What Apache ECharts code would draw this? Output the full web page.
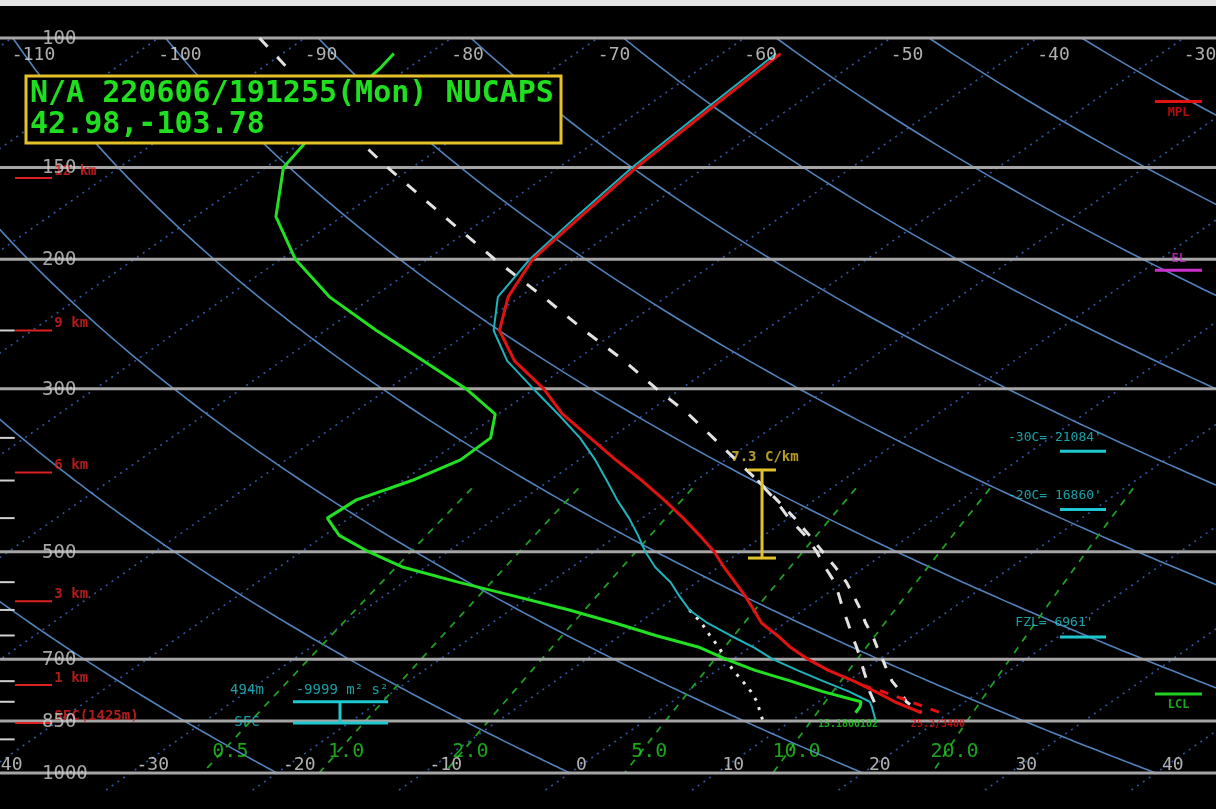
<!DOCTYPE html>
<html><head><meta charset="utf-8">
<script src="https://cdn.jsdelivr.net/npm/echarts@6.0.0/dist/echarts.min.js"></script>
<style>html,body{margin:0;padding:0;background:#000;overflow:hidden}#chart{width:1216px;height:809px}</style>
</head><body><div id="chart"></div>
<script>
// ------------------ DATA ------------------
const ISOBARS = [100, 150, 200, 300, 500, 700, 850, 1000];
const ISOBAR_LABELS = ['100', '150', '200', '300', '500', '700', '850', '1000'];
const MINOR_ISOBARS = [250, 350, 400, 450, 550, 600, 650, 750, 800, 900];
const TOP_TEMPS = [-110, -100, -90, -80, -70, -60, -50, -40, -30];
const BOTTOM_TEMPS = [-40, -30, -20, -10, 0, 10, 20, 30, 40];
const ISOTHERMS = [-110, -100, -90, -80, -70, -60, -50, -40, -30, -20, -10, 0, 10, 20, 30, 40];
const DRY_ADIABATS = [-20, 0, 20, 40, 60, 80, 100, 120, 140, 160, 180];
const MIXING_RATIOS = [0.5, 1, 2, 5, 10, 20];
const MIXING_LABELS = ['0.5', '1.0', '2.0', '5.0', '10.0', '20.0'];

const TEMP_P = [105,125,150,175,200,225,250,275,300,325,350,375,400,425,450,475,500,525,550,575,600,625,650,675,700,725,750,775,800,828];
const TEMP   = [-56.0,-55.4,-54.7,-53.7,-52.8,-50.8,-48.1,-44.1,-39.4,-35.6,-31.4,-27.5,-23.7,-20.3,-17.2,-14.4,-11.8,-9.6,-7.4,-5.3,-3.4,-1.6,0.7,2.8,5.1,7.6,10.4,12.9,15.2,18.1];
const WB_P   = [105,125,150,175,200,225,250,275,300,325,350,375,400,425,450,475,500,525,550,575,600,625,650,675,700,725,750,775,800,812,850];
const WETBULB= [-56.3,-55.7,-55.0,-54.0,-53.0,-51.5,-48.5,-44.6,-40.1,-35.9,-32.1,-28.9,-26.1,-23.5,-20.9,-18.6,-16.5,-14.3,-11.8,-9.8,-7.8,-5.3,-2.5,0.3,2.7,5.5,8.3,11.1,13.5,14.1,15.8];
const DEW_P  = [105,110,125,150,175,200,225,250,275,300,325,350,375,400,425,450,475,500,525,550,575,600,625,650,675,700,725,750,775,800,812,828];
const DEWPT  = [-82.4,-81.9,-81.0,-78.8,-74.5,-69.0,-63.0,-56.5,-50.3,-44.7,-40.2,-38.2,-38.1,-39.4,-41.3,-41.5,-39.0,-35.4,-31.5,-26.3,-21.0,-16.0,-11.6,-7.6,-3.4,-0.5,2.6,6.1,9.3,12.9,13.3,13.6];
const PARCEL_P = [100,125,150,175,200,225,250,275,300,325,350,375,400,425,450,475,500,525,550,575,600,625,650,675,700,725,750,775,800,828];
const PARCEL_A = [-93.1,-81.6,-71.7,-63.0,-55.4,-48.4,-42.3,-36.6,-31.7,-27.0,-23.0,-19.3,-15.8,-12.7,-10.0,-7.2,-4.8,-2.7,-0.6,1.1,2.7,4.3,5.8,7.3,8.7,10.0,11.3,12.5,13.8,15.1];
const PARCEL_B_P = [400,425,450,475,500,525,550,575,600,625,650,675,700,725,750,775,800,828];
const PARCEL_B = [-15.8,-12.6,-9.6,-6.9,-4.4,-2.0,0.2,2.1,3.9,5.5,7.2,8.7,10.2,11.6,13.0,14.6,16.0,18.1];
const DD_P = [600,625,650,675,700,725,750,775,800,828,850];
const DD_T = [-7.8,-5.7,-3.9,-2.1,-0.5,1.1,2.8,4.4,5.8,7.1,8.1];
const VT_P = [760,775,800,828];
const VT_T = [11.4,13.4,16.3,19.4];

const HEIGHT_LABELS = ['12 km', '9 km', '6 km', '3 km', '1 km', 'SFC(1425m)'];
const HEIGHT_P = [155, 250, 390, 584, 759, 855];
const LEVEL_TEXT = ["-30C= 21084'", "-20C= 16860'", "FZL= 6961'"];
const LEVEL_P = [365, 438, 653];
const MARKER_TEXT = ['MPL', 'EL', 'LCL'];
const MARKER_P = [122, 207, 781];
const LAPSE_TEXT = '7.3 C/km';
const LAPSE_P = [387, 510];
const SRH_TEXT = ['494m', '-9999 m\u00b2 s\u00b2', 'SFC'];
const SFC_TEXT = ['15.1800102', '25.3/3400'];
const TITLE_1 = 'N/A 220606/191255(Mon) NUCAPS';
const TITLE_2 = '42.98,-103.78';

// ------------------ GEOMETRY ------------------
const SKEW = 71.9, KAPPA = 0.283;
const XMIN = -38.91, XMAX = 44.10;
const sx = (t, p) => t + SKEW * Math.log10(1000 / p);
const thetaT = (th, p) => (th + 273.15) * Math.pow(p / 1000, KAPPA) - 273.15;
const tdMix = (w, p) => { const e = w * p / (622 + w); const l = Math.log(e / 6.112); return 243.5 * l / (17.67 - l); };
const prof = (P, T) => P.map((p, i) => [sx(T[i], p), p]);
const FONT = 'DejaVu Sans Mono';

function line(pts, color, width, type, z, clip) {
  return { type: 'line', silent: true, symbol: 'none', clip: !!clip, z: z, animation: false,
    data: pts, lineStyle: { color: color, width: width, type: type || 'solid' } };
}
function texts(items, style, z) {
  return { type: 'scatter', silent: true, symbolSize: 1, clip: false, z: z || 9, animation: false,
    itemStyle: { color: 'rgba(0,0,0,0)' },
    data: items.map(d => ({ value: [d[0], d[1]], label: { formatter: String(d[2]) } })),
    label: Object.assign({ show: true, position: 'inside', fontFamily: FONT, verticalAlign: 'middle' }, style) };
}

const series = [];
ISOTHERMS.forEach(t => series.push(line([[sx(t, 1055), 1055], [sx(t, 100), 100]], '#3455a4', 1.6, [2, 5], 1, false)));
DRY_ADIABATS.forEach(th => {
  const pts = []; for (let p = 100; p <= 1000; p += 5) pts.push([sx(thetaT(th, p), p), p]);
  series.push(line(pts, '#5282bb', 1.6, 'solid', 2, true));
});
MIXING_RATIOS.forEach(w => {
  const pts = []; for (let p = 410; p <= 1000; p += 10) pts.push([sx(tdMix(w, p), p), p]);
  series.push(line(pts, '#1f9f1f', 1.8, [7, 7], 2, false));
});
ISOBARS.forEach(p => series.push(line([[XMIN, p], [XMAX, p]], '#a5a5a5', 3, 'solid', 3, false)));
MINOR_ISOBARS.forEach(p => series.push(line([[XMIN, p], [XMIN + 1.0, p]], '#d0d0d0', 2, 'solid', 3, false)));

// profiles
series.push(line(prof(PARCEL_P, PARCEL_A), '#e2e2e2', 3, [12, 14], 6));
series.push(line(prof(PARCEL_B_P, PARCEL_B), '#e2e2e2', 3, [10, 12], 6));
series.push(line(prof(DD_P, DD_T), '#e6e6e6', 3, [3, 7], 6));
series.push(line(prof(DEW_P, DEWPT), '#22e022', 3, 'solid', 7));
series.push(line(prof(WB_P, WETBULB), '#1fb3bd', 2, 'solid', 7));
series.push(line(prof(TEMP_P, TEMP), '#e01212', 3, 'solid', 8));
series.push(line(prof(VT_P, VT_T), '#e01212', 3, [9, 9], 8));

// height markers (red, left)
HEIGHT_P.forEach(p => series.push(line([[-37.88, p], [-35.36, p]], '#dd2020', 2, 'solid', 8)));
series.push(texts(HEIGHT_P.map((p, i) => [-35.2, p, HEIGHT_LABELS[i]]),
  { color: '#e02020', fontSize: 14, fontWeight: 'bold', align: 'left', offset: [0, -7] }, 9));

// pressure labels
series.push(texts(ISOBARS.map((p, i) => [-36.04, p, ISOBAR_LABELS[i]]),
  { color: '#d0d0d0', fontSize: 19, align: 'left', offset: [0, 1] }, 10));
// temperature labels
series.push(texts(TOP_TEMPS.map(t => [sx(t, 100), 100, t]),
  { color: '#dcdcdc', fontSize: 18, align: 'left', offset: [0, 17] }, 10));
series.push(texts(BOTTOM_TEMPS.map(t => [sx(t, 1000), 1000, t]),
  { color: '#dcdcdc', fontSize: 18, align: 'left', offset: [6, -8] }, 10));
// mixing ratio labels
series.push(texts(MIXING_RATIOS.map((w, i) => [sx(tdMix(w, 935), 935), 935, MIXING_LABELS[i]]),
  { color: '#22cc22', fontSize: 20, align: 'center', offset: [8, 0] }, 10));

// right-side level annotations
LEVEL_P.forEach(p => series.push(line([[33.45, p], [36.59, p]], '#1fc8d0', 3, 'solid', 8)));
series.push(texts(LEVEL_P.map((p, i) => [i === 2 ? 30.4 : 29.9, p, LEVEL_TEXT[i]]),
  { color: '#1fc8d0', fontSize: 13, align: 'left', offset: [0, -14] }, 9));
const MCOL = ['#e01212', '#cc30cc', '#22d022'];
MARKER_P.forEach((p, i) => series.push(line([[39.93, p], [43.14, p]], MCOL[i], 3, 'solid', 8)));
MARKER_P.forEach((p, i) => series.push(texts([[41.55, p, MARKER_TEXT[i]]],
  { color: MCOL[i], fontSize: i === 1 ? 12 : 12, fontWeight: 'bold', align: 'center', offset: [0, i === 1 ? -11 : 11] }, 9)));

// lapse rate bar
series.push(line([[13.11, LAPSE_P[0]], [13.11, LAPSE_P[1]]], '#e2c22c', 3, 'solid', 9));
LAPSE_P.forEach(p => series.push(line([[12.15, p], [14.06, p]], '#e2c22c', 3, 'solid', 9)));
series.push(texts([[13.31, LAPSE_P[0], LAPSE_TEXT]], { color: '#e2c22c', fontSize: 14, fontWeight: 'bold', align: 'center', offset: [0, -13] }, 10));

// bottom-left SRH box
series.push(line([[-18.91, 800], [-12.42, 800]], '#1fc8d0', 3, 'solid', 8));
series.push(line([[-18.91, 855], [-12.42, 855]], '#1fc8d0', 3, 'solid', 8));
series.push(line([[-15.70, 800], [-15.70, 855]], '#1fc8d0', 3, 'solid', 8));
series.push(texts([[-22.05, 771, SRH_TEXT[0]], [-15.56, 771, SRH_TEXT[1]], [-22.05, 852, SRH_TEXT[2]]],
  { color: '#1fc8d0', fontSize: 14, align: 'center' }, 9));
// surface values
series.push(texts([[18.98, 860, SFC_TEXT[0]]], { color: '#22d022', fontSize: 10, fontWeight: 'bold', align: 'center' }, 9));
series.push(texts([[25.12, 860, SFC_TEXT[1]]], { color: '#e01212', fontSize: 10, fontWeight: 'bold', align: 'center' }, 9));

const chart = echarts.init(document.getElementById('chart'), null, { renderer: 'canvas' });
chart.setOption({
  backgroundColor: '#000',
  animation: false,
  grid: { left: 0, right: 0, top: 38, bottom: 36, containLabel: false },
  xAxis: { type: 'value', min: XMIN, max: XMAX, show: false },
  yAxis: { type: 'log', logBase: 10, min: 100, max: 1000, inverse: true, show: false },
  series: series,
  graphic: [
    { type: 'rect', z: 50, shape: { x: 0, y: 0, width: 1216, height: 6 }, style: { fill: '#e4e4e4' } },
    { type: 'rect', z: 100, shape: { x: 26, y: 76, width: 535, height: 67 }, style: { fill: '#000', stroke: '#e6c22a', lineWidth: 3 } },
    { type: 'text', z: 101, x: 30, y: 94, style: { text: TITLE_1, fill: '#1ee01e', font: 'bold 30px "DejaVu Sans Mono"', verticalAlign: 'middle' } },
    { type: 'text', z: 101, x: 30, y: 125, style: { text: TITLE_2, fill: '#1ee01e', font: 'bold 30px "DejaVu Sans Mono"', verticalAlign: 'middle' } }
  ]
});
</script></body></html>
